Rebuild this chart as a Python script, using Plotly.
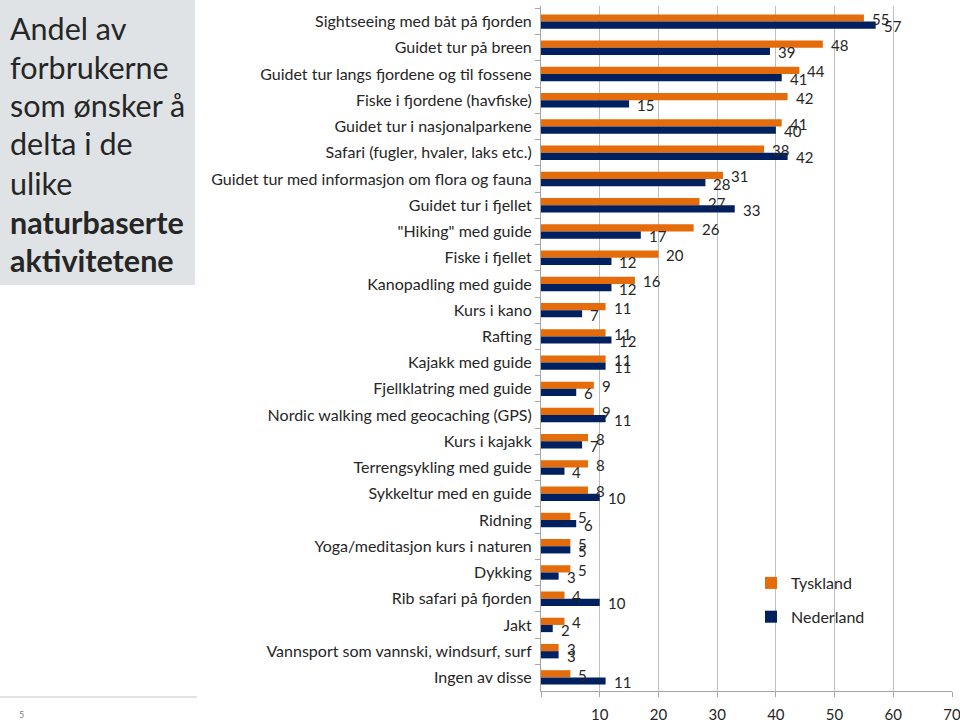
import plotly.graph_objects as go

categories = [
    "Sightseeing med båt på fjorden",
    "Guidet tur på breen",
    "Guidet tur langs fjordene og til fossene",
    "Fiske i fjordene (havfiske)",
    "Guidet tur i nasjonalparkene",
    "Safari (fugler, hvaler, laks etc.)",
    "Guidet tur med informasjon om flora og fauna",
    "Guidet tur i fjellet",
    "\"Hiking\" med guide",
    "Fiske i fjellet",
    "Kanopadling med guide",
    "Kurs i kano",
    "Rafting",
    "Kajakk med guide",
    "Fjellklatring med guide",
    "Nordic walking med geocaching (GPS)",
    "Kurs i kajakk",
    "Terrengsykling med guide",
    "Sykkeltur med en guide",
    "Ridning",
    "Yoga/meditasjon kurs i naturen",
    "Dykking",
    "Rib safari på fjorden",
    "Jakt",
    "Vannsport som vannski, windsurf, surf",
    "Ingen av disse",
]
tyskland = [55, 48, 44, 42, 41, 38, 31, 27, 26, 20, 16, 11, 11, 11, 9, 9, 8, 8, 8, 5, 5, 5, 4, 4, 3, 5]
nederland = [57, 39, 41, 15, 40, 42, 28, 33, 17, 12, 12, 7, 12, 11, 6, 11, 7, 4, 10, 6, 5, 3, 10, 2, 3, 11]
series_names = ["Tyskland", "Nederland"]
x_ticks = [0, 10, 20, 30, 40, 50, 60, 70]
x_ticktext = ["", "10", "20", "30", "40", "50", "60", "70"]
title_lines = ["Andel av", "forbrukerne", "som ønsker å", "delta i de", "ulike",
               "<b>naturbaserte</b>", "<b>aktivitetene</b>"]

W, H = 960, 724
L, R, T, B = 541, 8, 6, 33
FONT = "Lato"
TXT = "#262626"
ORANGE = "#E46C0A"
NAVY = "#002060"
BARGAP = 0.45


def px_x(p):
    return (p - L) / (W - L - R)


def px_y(p):
    return (H - B - p) / (H - T - B)


fig = go.Figure()
fig.add_trace(go.Bar(y=categories, x=tyskland, orientation="h", name=series_names[0],
                     marker=dict(color=ORANGE, line=dict(width=0)), legendgroup="t",
                     hoverinfo="skip"))
fig.add_trace(go.Bar(y=categories, x=nederland, orientation="h", name=series_names[1],
                     marker=dict(color=NAVY, line=dict(width=0)), legendgroup="n",
                     hoverinfo="skip"))

annotations = []
off = (1 - BARGAP) / 4
for i, (t, n) in enumerate(zip(tyskland, nederland)):
    for val, dy in ((t, -off), (n, off)):
        annotations.append(dict(x=val, y=i + dy, xref="x", yref="y", text=str(val),
                                showarrow=False, xanchor="left", yanchor="middle",
                                xshift=6, yshift=-1,
                                font=dict(family=FONT, size=15, color=TXT)))

centers = [28, 67, 105, 143, 183, 222, 260]
for line, c in zip(title_lines, centers):
    annotations.append(dict(x=px_x(8), y=px_y(c), xref="paper", yref="paper", text=line,
                            showarrow=False, xanchor="left", yanchor="middle",
                            font=dict(family=FONT, size=30.5, color=TXT)))
annotations.append(dict(x=px_x(17), y=px_y(714), xref="paper", yref="paper", text="5",
                        showarrow=False, xanchor="left", yanchor="middle",
                        font=dict(family=FONT, size=9, color="#7F7F7F")))

shapes = [
    dict(type="rect", xref="paper", yref="paper", x0=px_x(0), x1=px_x(195),
         y0=px_y(285), y1=px_y(0), fillcolor="#E0E3E5", line=dict(width=0), layer="below"),
    dict(type="line", xref="paper", yref="paper", x0=px_x(0), x1=px_x(197),
         y0=px_y(697), y1=px_y(697), line=dict(color="#C8C8C8", width=1)),
]

fig.update_layout(
    width=W, height=H,
    margin=dict(l=L, r=R, t=T, b=B, pad=0, autoexpand=False),
    paper_bgcolor="white", plot_bgcolor="white",
    barmode="group", bargap=BARGAP, bargroupgap=0,
    font=dict(family=FONT, color=TXT),
    showlegend=True, hovermode=False,
    legend=dict(x=px_x(751), y=px_y(566), xanchor="left", yanchor="top",
                font=dict(family=FONT, size=16, color=TXT),
                bgcolor="rgba(0,0,0,0)", traceorder="grouped", tracegroupgap=10,
                itemclick=False, itemdoubleclick=False),
    xaxis=dict(range=[0, 70], tickvals=x_ticks, ticktext=x_ticktext,
               showgrid=True, gridcolor="#BFBFBF", gridwidth=1,
               showline=True, linecolor="#A6A6A6", linewidth=1,
               ticks="outside", ticklen=5, tickcolor="#A6A6A6", ticklabelstandoff=5,
               ticklabeloverflow="allow", automargin=False,
               tickfont=dict(family=FONT, size=15, color=TXT), zeroline=False,
               fixedrange=True),
    yaxis=dict(autorange="reversed", type="category",
               showline=True, linecolor="#A6A6A6", linewidth=1,
               ticks="outside", ticklen=5, tickcolor="#A6A6A6", tickson="boundaries",
               ticklabelstandoff=5, automargin=False,
               tickfont=dict(family=FONT, size=16, color=TXT), showgrid=False,
               fixedrange=True),
    annotations=annotations,
    shapes=shapes,
)

fig.write_html("out.html", config={"displayModeBar": False, "staticPlot": True},
               post_script="document.body.style.margin='0px';")
